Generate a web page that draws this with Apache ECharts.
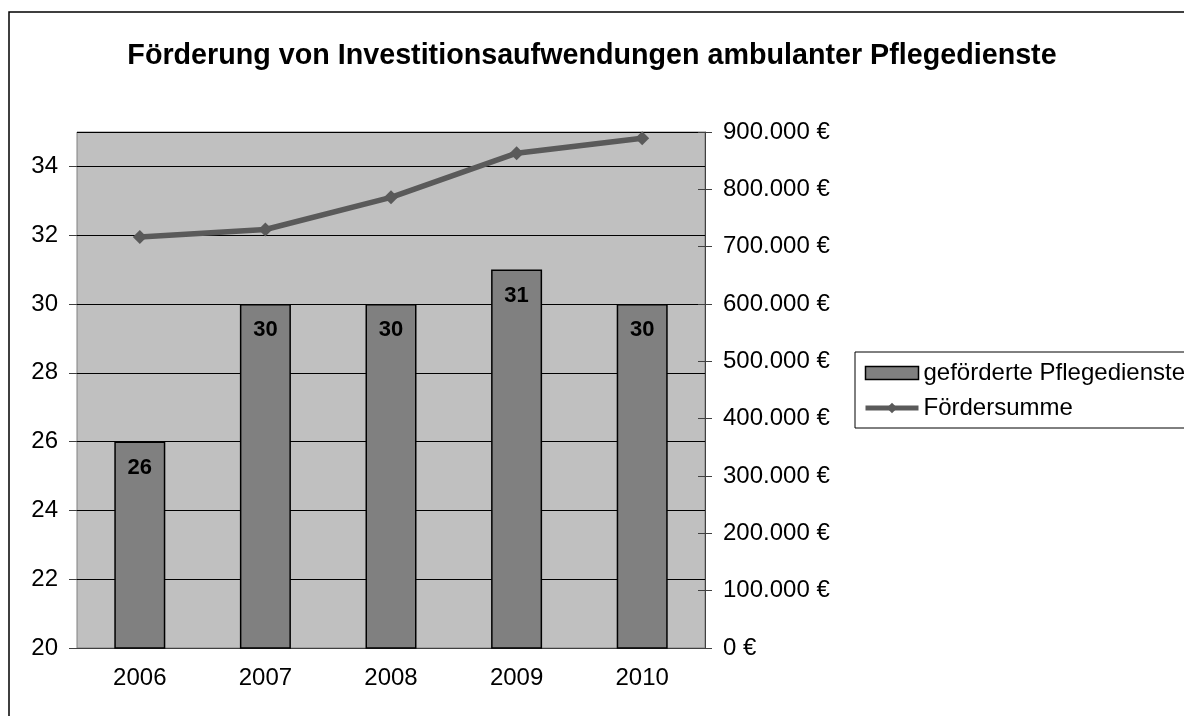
<!DOCTYPE html>
<html>
<head>
<meta charset="utf-8">
<title>Förderung von Investitionsaufwendungen ambulanter Pflegedienste</title>
<script src="https://cdn.jsdelivr.net/npm/echarts@6/dist/echarts.min.js"></script>
<style>
    html, body { margin: 0; padding: 0; background: #fff; }
    #chart { width: 1184px; height: 716px; }
</style>
</head>
<body>
<div id="chart"></div>
<script>
    // data
    const years = ["2006", "2007", "2008", "2009", "2010"];
    const dienste = [26, 30, 30, 31, 30]; // geförderte Pflegedienste
    const summe = [717000, 730000, 786000, 863000, 889000]; // Fördersumme in €
    const leftTicks = { min: 20, max: 35, step: 2 };
    const rightTicks = { min: 0, max: 900000, step: 100000 };

    const FONT = "Liberation Sans, Arial, sans-serif";
    const LINE_COLOR = "#5a5a5a";
    const euro = (v) => String(v).replace(/\B(?=(\d{3})+(?!\d))/g, ".") + " €";

    let chart = echarts.init(document.getElementById("chart"));
    chart.setOption({
        animation: false,
        textStyle: { fontFamily: FONT, color: "#000" },
        title: {
            text: "Förderung von Investitionsaufwendungen ambulanter Pflegedienste",
            left: "center",
            top: 37,
            textStyle: { fontFamily: FONT, fontSize: 28.7, fontWeight: "bold", color: "#000" }
        },
        // outer frame, cut at the right and bottom
        graphic: [{
            type: "rect",
            shape: { x: 9, y: 12, width: 1200, height: 720 },
            style: { fill: "none", stroke: "#000", lineWidth: 1.5 },
            silent: true
        }],
        legend: {
            orient: "vertical",
            left: 855,
            top: 352,
            padding: [9, 30, 8, 8],
            itemGap: 11,
            itemWidth: 53,
            itemHeight: 13,
            borderColor: "#000",
            borderWidth: 1,
            textStyle: { fontFamily: FONT, fontSize: 24, color: "#000" },
            data: [
                { name: "geförderte Pflegedienste", icon: "rect", itemStyle: { borderColor: "#000", borderWidth: 1.5 } },
                { name: "Fördersumme", lineStyle: { width: 5, color: LINE_COLOR } }
            ]
        },
        grid: {
            left: 77,
            right: 479,
            top: 132,
            bottom: 68,
            show: true,
            backgroundColor: "#c0c0c0",
            borderColor: "#808080",
            borderWidth: 1
        },
        xAxis: [{
            type: "category",
            data: years,
            axisLine: { lineStyle: { color: "#404040", width: 1 } },
            axisTick: { length: 8, lineStyle: { color: "#404040" } },
            axisLabel: { fontSize: 24, margin: 18, color: "#000" }
        }, {
            // inner half of the crossing ticks
            type: "category",
            data: years,
            position: "bottom",
            axisLine: { show: false },
            axisTick: { inside: true, length: 7, lineStyle: { color: "#404040" } },
            axisLabel: { show: false }
        }],
        yAxis: [{
            type: "value",
            min: leftTicks.min,
            max: leftTicks.max,
            interval: leftTicks.step,
            axisLine: { show: false },
            axisTick: { show: true, length: 8, lineStyle: { color: "#404040" } },
            axisLabel: { fontSize: 24, margin: 19, color: "#000", showMaxLabel: false },
            splitLine: { lineStyle: { color: "#000", width: 1 } }
        }, {
            type: "value",
            position: "right",
            min: rightTicks.min,
            max: rightTicks.max,
            interval: rightTicks.step,
            axisLine: { show: true, lineStyle: { color: "#404040", width: 1 } },
            axisTick: { show: true, length: 7, lineStyle: { color: "#404040" } },
            axisLabel: { fontSize: 24, margin: 18, color: "#000", formatter: euro },
            splitLine: { show: false }
        }, {
            type: "value",
            position: "right",
            min: rightTicks.min,
            max: rightTicks.max,
            interval: rightTicks.step,
            axisLine: { show: false },
            axisTick: { show: true, inside: true, length: 7, lineStyle: { color: "#404040" } },
            axisLabel: { show: false },
            splitLine: { show: false }
        }],
        series: [{
            name: "geförderte Pflegedienste",
            type: "bar",
            data: dienste,
            barWidth: 51,
            itemStyle: { color: "#808080", borderColor: "#000", borderWidth: 1.5 },
            label: {
                show: true,
                position: "insideTop",
                distance: 15,
                fontSize: 22,
                fontWeight: "bold",
                color: "#000",
                fontFamily: FONT
            }
        }, {
            name: "Fördersumme",
            type: "line",
            yAxisIndex: 1,
            data: summe,
            symbol: "diamond",
            symbolSize: 14,
            lineStyle: { color: LINE_COLOR, width: 5.5 },
            itemStyle: { color: LINE_COLOR }
        }]
    });
</script>
</body>
</html>
